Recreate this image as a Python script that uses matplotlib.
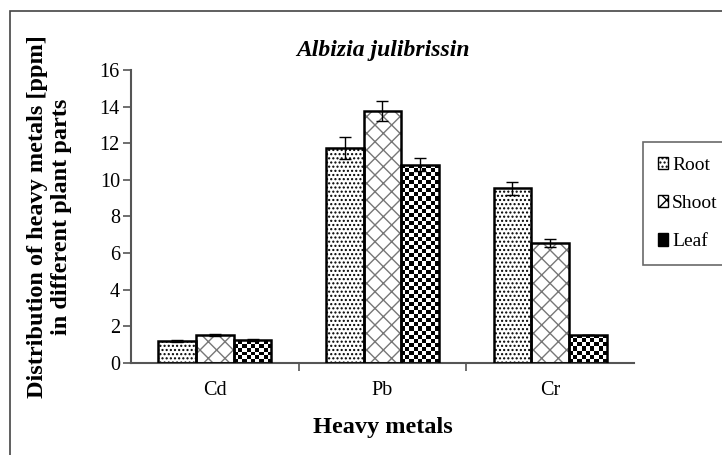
import numpy as np
import matplotlib
matplotlib.use("Agg")
import matplotlib.pyplot as plt
from matplotlib.patches import Patch, Rectangle

plt.rcParams["font.family"] = ["Liberation Serif", "DejaVu Serif"]
plt.rcParams["hatch.linewidth"] = 1.0

# data
metals = ["Cd", "Pb", "Cr"]
parts = ["Root", "Shoot", "Leaf"]
root = [1.22, 11.73, 9.54]
shoot = [1.53, 13.77, 6.54]
leaf = [1.25, 10.82, 1.53]
root_err = [0.05, 0.6, 0.36]
shoot_err = [0.05, 0.55, 0.22]
leaf_err = [0.05, 0.35, 0.0]

fig = plt.figure(figsize=(7.22, 4.55), dpi=100)
ax = fig.add_axes([0.1814, 0.2022, 0.6967, 0.644])

# frame around the whole figure
fig.patches.append(Rectangle((10 / 722, -0.05), 1.0, 1 - 11 / 455 + 0.05,
                             transform=fig.transFigure, fill=False,
                             edgecolor="#444444", linewidth=1.2))

x = np.arange(len(metals))
w = 0.225
err_kw = dict(ecolor="black", elinewidth=1, capsize=4, capthick=1)

# Root: dotted
ax.bar(x - w, root, w, color="white", edgecolor="black", hatch="....",
       linewidth=0, zorder=2)
ax.bar(x - w, root, w, yerr=root_err, fill=False, edgecolor="black",
       linewidth=1.8, error_kw=err_kw, zorder=3)

# Shoot: grey cross hatch
ax.bar(x, shoot, w, color="white", edgecolor="#777777", hatch="xx",
       linewidth=0, zorder=2)
ax.bar(x, shoot, w, yerr=shoot_err, fill=False, edgecolor="black",
       linewidth=1.8, error_kw=err_kw, zorder=3)

# Leaf: checkerboard
leaf_bars = ax.bar(x + w, leaf, w, color="white", linewidth=0, zorder=2)
ax.bar(x + w, leaf, w, yerr=leaf_err, fill=False, edgecolor="black",
       linewidth=1.8, error_kw=err_kw, zorder=3)

ax.set_xlim(-0.5, 2.5)
ax.set_ylim(0, 16)

for b in leaf_bars:
    x0, bw, bh = b.get_x(), b.get_width(), b.get_height()
    nx = 9
    ny = max(1, int(round(bh / 0.22)))
    yy, xx = np.indices((ny, nx))
    board = (xx + yy) % 2
    im = ax.imshow(board, cmap="gray", extent=(x0, x0 + bw, 0, bh),
                   interpolation="nearest", aspect="auto", origin="lower",
                   zorder=2.5)
    im.set_clip_path(b)

ax.set_xlim(-0.5, 2.5)
ax.set_ylim(0, 16)

for s in ["top", "right"]:
    ax.spines[s].set_visible(False)
for s in ["left", "bottom"]:
    ax.spines[s].set_color("#555555")
    ax.spines[s].set_linewidth(1.5)

ax.set_yticks(np.arange(0, 17, 2))
ax.set_xticks(x)
ax.set_xticklabels(metals)
ax.set_xticks([0.5, 1.5], minor=True)
ax.tick_params(axis="x", which="major", length=0, pad=13, labelsize=14.5)
ax.tick_params(axis="x", which="minor", length=6, width=1.2, color="#555555")
ax.tick_params(axis="y", length=6, width=1.2, color="#555555", labelsize=14.5,
               pad=2)

ax.set_title("Albizia julibrissin", fontsize=17, fontweight="bold",
             style="italic", pad=10)
ax.set_xlabel("Heavy metals", fontsize=17.5, fontweight="bold", labelpad=12)
ax.set_ylabel("Distribution of heavy metals [ppm]\nin different plant parts",
              fontsize=17.5, fontweight="bold", labelpad=20, linespacing=1.15)

handles = [
    Patch(facecolor="white", edgecolor="black", hatch="....", label="Root"),
    Patch(facecolor="white", edgecolor="black", hatch="xx", label="Shoot"),
    Patch(facecolor="black", edgecolor="black", label="Leaf"),
]
leg = fig.legend(handles=handles, loc="upper left", mode="expand",
                 bbox_to_anchor=(643 / 722, 1 - 264 / 455, 0.2, 122 / 455),
                 fontsize=14, frameon=True, fancybox=False, handlelength=0.55,
                 handleheight=0.6, handletextpad=0.2, labelspacing=1.1,
                 borderpad=0.75, borderaxespad=0)
leg.get_frame().set_edgecolor("#444444")
leg.get_frame().set_linewidth(1.2)

fig.savefig("out.png", dpi=100)
